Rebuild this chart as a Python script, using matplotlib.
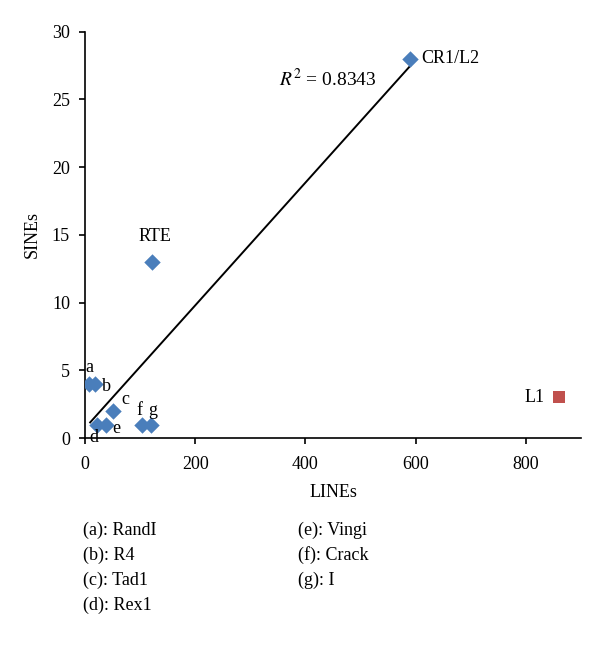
import numpy as np
import matplotlib
matplotlib.use("Agg")
import matplotlib.pyplot as plt

plt.rcParams['font.family'] = ['Liberation Serif', 'DejaVu Serif']
plt.rcParams['mathtext.fontset'] = 'stix'

# LINE / SINE counts per clade
names = ["a", "b", "c", "d", "e", "f", "g", "RTE", "CR1/L2"]
lines_n = [6, 17, 50, 21, 37, 103, 120, 122, 590]
sines_n = [4, 4, 2, 1, 1, 1, 1, 13, 28]
l1_x, l1_y = 860, 3
r2_text = "0.8343"

legend_left = ["(a): RandI", "(b): R4", "(c): Tad1", "(d): Rex1"]
legend_right = ["(e): Vingi", "(f): Crack", "(g): I"]

fig = plt.figure(figsize=(6, 6.48), dpi=100)
ax = fig.add_axes([0.142, 0.324, 0.826, 0.627])

x = np.array(lines_n, dtype=float)
y = np.array(sines_n, dtype=float)
k, b = np.polyfit(x, y, 1)
xs = np.array([x.min() + 3, x.max()])
ax.plot(xs, k * xs + b, color="black", lw=1.4, zorder=1)

ax.scatter(x, y, marker="D", s=70, color="#4A7EBB", zorder=3, linewidths=0)
ax.scatter([l1_x], [l1_y], marker="s", s=75, color="#C0504D", zorder=3, linewidths=0)

fs = 13
offs = {
    "a": (-2, 6, "left", "bottom"),
    "b": (5, -2, "left", "center"),
    "c": (6, 2, "left", "bottom"),
    "d": (-2, -3, "center", "top"),
    "e": (5, -3, "left", "center"),
    "f": (-2, 4, "center", "bottom"),
    "g": (1, 4, "center", "bottom"),
    "RTE": (2, 12, "center", "bottom"),
    "CR1/L2": (8, 0, "left", "center"),
}
for n, xi, yi in zip(names, x, y):
    dx, dy, ha, va = offs[n]
    ax.annotate(n, (xi, yi), xytext=(dx, dy), textcoords="offset points",
                ha=ha, va=va, fontsize=fs)
ax.annotate("L1", (l1_x, l1_y), xytext=(-10, 0), textcoords="offset points",
            ha="right", va="center", fontsize=fs)

ax.text(440, 26.5, "$R^2$ = " + r2_text, fontsize=fs + 1,
        ha="center", va="center")

ax.set_xlim(0, 900)
ax.set_ylim(0, 30)
ax.set_xticks([0, 200, 400, 600, 800])
ax.set_yticks([0, 5, 10, 15, 20, 25, 30])
ax.spines["top"].set_visible(False)
ax.spines["right"].set_visible(False)
ax.spines["left"].set_linewidth(1.2)
ax.spines["bottom"].set_linewidth(1.2)
ax.tick_params(labelsize=fs, direction="out", length=4, width=1.2)
ax.tick_params(axis="x", pad=9)
ax.tick_params(axis="y", pad=7)
ax.set_xlabel("LINEs", fontsize=fs, labelpad=8)
ax.set_ylabel("SINEs", fontsize=fs, labelpad=8)

for i, s in enumerate(legend_left):
    fig.text(83 / 600, 1 - (530 + i * 25) / 648, s, fontsize=fs, va="center")
for i, s in enumerate(legend_right):
    fig.text(298 / 600, 1 - (530 + i * 25) / 648, s, fontsize=fs, va="center")

fig.savefig("out.png", dpi=100)
